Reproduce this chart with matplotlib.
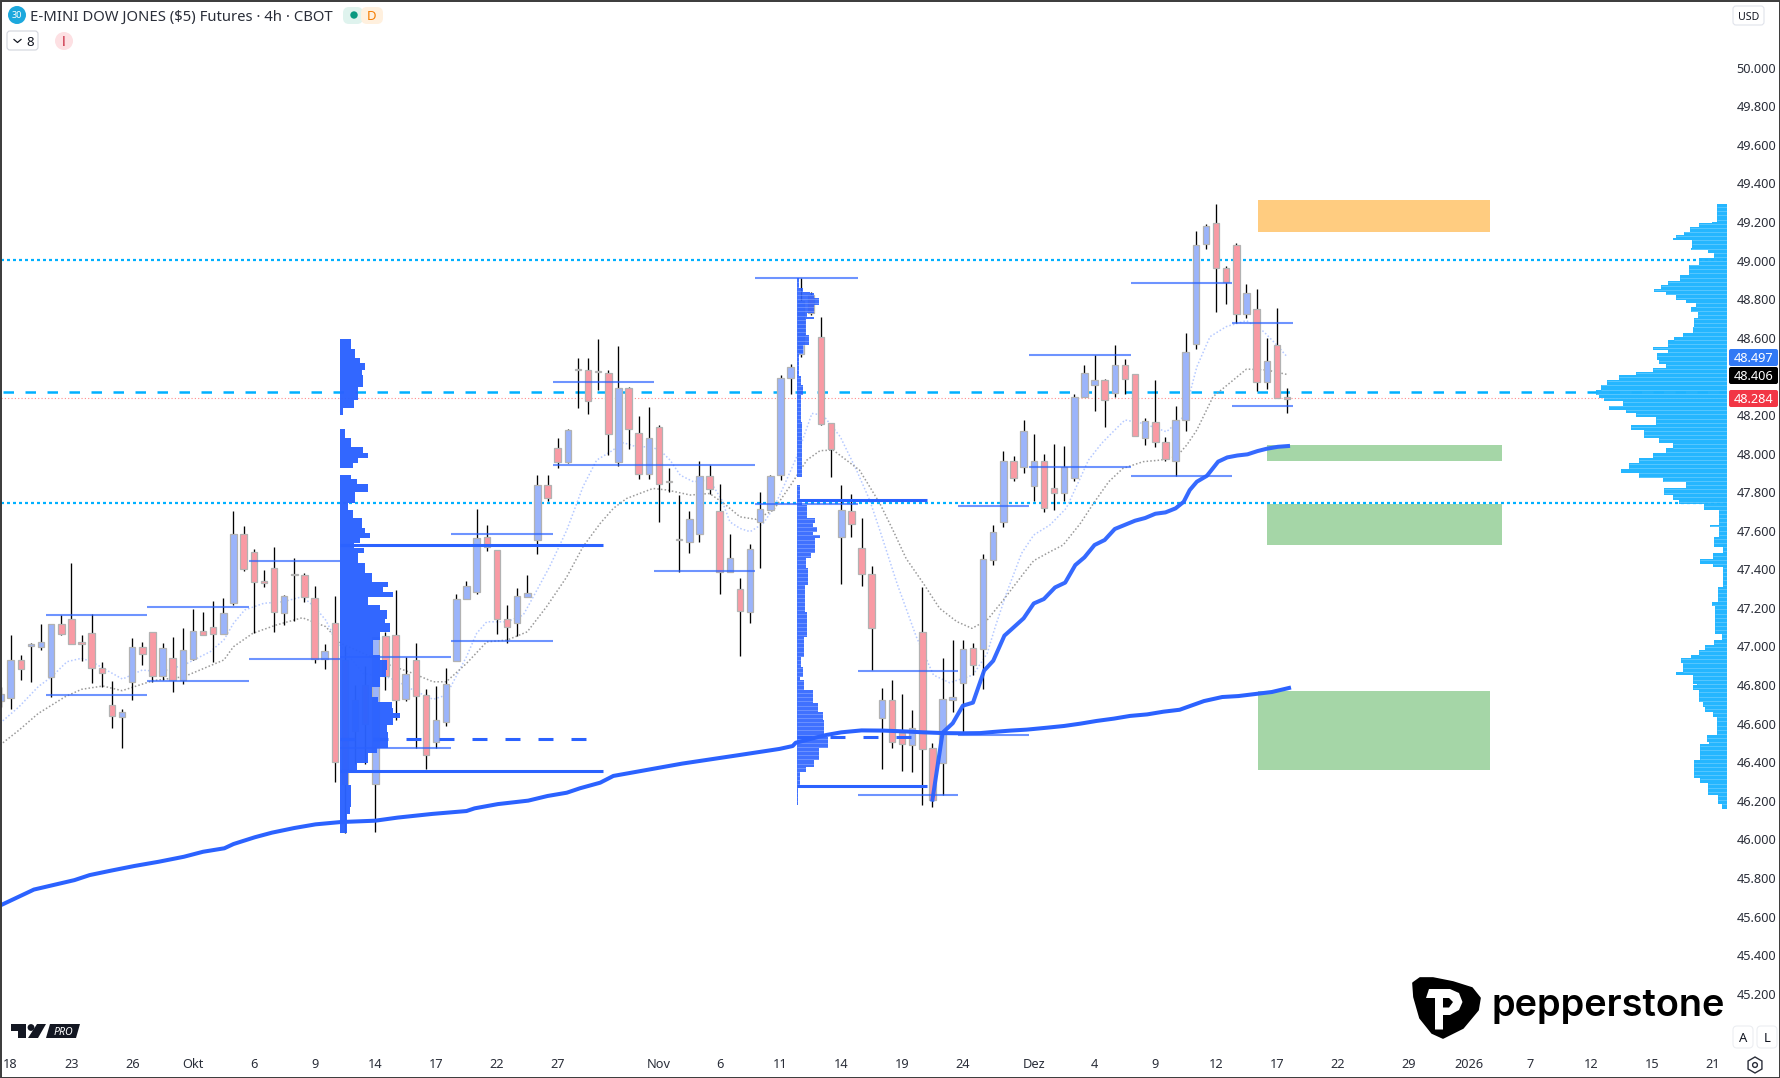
import numpy as np
from matplotlib import pyplot as plt
from matplotlib.patches import Polygon, Circle, FancyBboxPatch, Rectangle, RegularPolygon
from matplotlib.transforms import Affine2D

W, H = 1781, 1078
PANE_W, PANE_H = 1727, 1052
BAR_PX = 10.13

plt.rcParams['font.family'] = ['Noto Sans', 'DejaVu Sans']

# candles, index = bar number
opens = [46719, 46731, 46928, 47004, 46999, 46844, 47115, 47141, 47016, 47068, 46887, 46695, 46636, 46818, 46996, 47073,
         46849, 46939, 46826, 46933, 47078, 47101, 47066, 47227, 47581, 47488, 47332, 47405, 47175, 47369, 47369, 47250,
         46933, 47120, 46929, 46560, 46800, 46287, 47054, 47062, 46729, 46928, 46746, 46506, 46610, 46926, 47244, 47284,
         47565, 47498, 47145, 47120, 47258, 47551, 47835, 48027, 47958, 48431, 48431, 48421, 48415, 47954, 48338, 48104,
         47895, 48136, 47852, 47550, 47543, 47584, 47882, 47702, 47384, 47296, 47180, 47647, 47710, 47887, 48390, 48516,
         48822, 48602, 48156, 47570, 47700, 47513, 47374, 46631, 46721, 46550, 46491, 47073, 46472, 46398, 46724, 46812,
         46990, 46989, 47450, 47647, 47960, 47928, 47833, 47960, 47820, 47797, 47871, 48291, 48357, 48379, 48312, 48457,
         48410, 48082, 48162, 48058, 47959, 48172, 48566, 49084, 49193, 48960, 49079, 48725, 48747, 48369, 48561, 48286]
highs = [46792, 47059, 46956, 47016, 47117, 47115, 47163, 47431, 47059, 47167, 46921, 46821, 46674, 47042, 47021, 47077,
         47016, 47047, 47094, 47193, 47179, 47236, 47251, 47702, 47625, 47504, 47396, 47516, 47267, 47457, 47379, 47313,
         47015, 47262, 47000, 46800, 46900, 47050, 47076, 47292, 46947, 47019, 46779, 46795, 46891, 47272, 47339, 47712,
         47629, 47500, 47215, 47303, 47370, 47888, 47888, 48080, 48125, 48495, 48495, 48594, 48433, 48557, 48343, 48194,
         48241, 48148, 47925, 47785, 47700, 47959, 47940, 47842, 47583, 47355, 47531, 47799, 47888, 48407, 48464, 48908,
         48835, 48706, 48160, 47837, 47790, 47664, 47417, 46783, 46825, 46752, 46669, 47310, 46498, 46940, 47034, 47034,
         47016, 47478, 47630, 48013, 47987, 48174, 48101, 47998, 48049, 48039, 48307, 48459, 48511, 48384, 48562, 48490,
         48412, 48182, 48381, 48086, 48246, 48623, 49153, 49190, 49293, 48972, 49090, 48879, 48853, 48597, 48754, 48338]
lows = [46688, 46678, 46826, 46818, 46982, 46740, 47059, 47015, 46926, 46812, 46792, 46579, 46475, 46723, 46904, 46818,
        46826, 46766, 46805, 46930, 47059, 46921, 47065, 47215, 47393, 47072, 47310, 47077, 47111, 47134, 47232, 46916,
        46883, 46299, 46031, 46390, 46390, 46039, 46774, 46618, 46719, 46472, 46363, 46472, 46589, 46926, 47244, 47272,
        47496, 47064, 47019, 47054, 47258, 47479, 47754, 47925, 47952, 48236, 48205, 48329, 47992, 47935, 48023, 47868,
        47868, 47645, 47800, 47388, 47486, 47543, 47790, 47272, 47384, 46951, 47123, 47407, 47707, 47862, 48308, 48500,
        48718, 48148, 47878, 47322, 47569, 47315, 46878, 46367, 46475, 46356, 46351, 46178, 46166, 46230, 46660, 46553,
        46852, 46780, 47422, 47621, 47858, 47901, 47754, 47699, 47707, 47754, 47859, 48291, 48220, 48137, 48295, 48308,
        48089, 48044, 48034, 47963, 47885, 48117, 48543, 49060, 48735, 48775, 48678, 48702, 48322, 48336, 48286, 48212]
closes = [46752, 46930, 46885, 47009, 47021, 47115, 47066, 47015, 47015, 46890, 46864, 46641, 46659, 46996, 46963, 46849,
          46990, 46826, 46980, 47078, 47061, 47066, 47172, 47581, 47400, 47332, 47330, 47180, 47260, 47369, 47258, 46933,
          46975, 46403, 46287, 46720, 46600, 47050, 46846, 46725, 46857, 46745, 46435, 46617, 46808, 47244, 47311, 47560,
          47514, 47145, 47102, 47260, 47275, 47835, 47771, 47958, 48120, 48433, 48274, 48423, 48103, 48338, 48129, 47895,
          48079, 47843, 47850, 47552, 47659, 47882, 47818, 47384, 47457, 47186, 47504, 47711, 47882, 48390, 48447, 48792,
          48727, 48155, 48025, 47705, 47633, 47377, 47098, 46721, 46507, 46496, 46576, 46470, 46206, 46726, 46736, 46985,
          46906, 47452, 47592, 47960, 47875, 48117, 47960, 47716, 47797, 47930, 48291, 48416, 48379, 48276, 48457, 48388,
          48089, 48167, 48058, 47973, 48172, 48524, 49079, 49178, 48963, 48887, 48725, 48830, 48369, 48478, 48288, 48284]

# moving averages (dotted)
fast_x = [-0.05, 1.84, 3.73, 5.05, 6.56, 8.0, 9.0, 10.15, 12.04, 14.0, 15.8, 18.1, 20.7, 22.05, 23.0, 24.1, 26, 27.9, 29.8,
          31.0, 32.1, 33.1, 35.8, 38.1, 39.1, 40.75, 42.7, 44.0, 44.7, 46, 47, 48, 50, 51.6, 52.6, 54.2, 55.9, 57.5, 58.85,
          60.2, 61.5, 62.8, 64.1, 65.1, 66.1, 67.1, 68.4, 70.0, 71.2, 72, 73, 74, 75.3, 76.3, 77.3, 78.6, 80.1, 81.2, 82.9,
          84.5, 85.8, 86.8, 88.5, 90.4, 92.1, 93.7, 96, 97.4, 98.2, 99.3, 100.8, 102, 103.6, 105.2, 106.2, 107.4, 108.7, 110,
          111, 112.8, 115.1, 116.8, 118.1, 119.4, 121, 123, 124.7, 126, 127]
fast_y = [46602, 46688, 46792, 46843, 46921, 46939, 46921, 46887, 46831, 46878, 46869, 46904, 46973, 47034, 47120, 47189,
          47224, 47232, 47258, 47206, 47137, 47034, 46860, 46843, 46822, 46774, 46726, 46748, 46817, 46947, 47068, 47128,
          47128, 47163, 47258, 47413, 47603, 47828, 47966, 48009, 48056, 48035, 48035, 48018, 47966, 47888, 47854, 47863,
          47759, 47646, 47612, 47595, 47638, 47716, 47828, 47983, 48208, 48199, 48087, 47914, 47759, 47603, 47327, 47051,
          46852, 46812, 46852, 46964, 47102, 47275, 47483, 47578, 47630, 47716, 47828, 47966, 48053, 48122, 48174, 48156,
          48113, 48191, 48450, 48606, 48658, 48689, 48632, 48562, 48502]
slow_x = [-0.05, 1.84, 3.73, 6.4, 8, 10.1, 12, 15.06, 18.1, 22.05, 23, 24.9, 27.2, 29.8, 32.1, 33.6, 38.4, 40.75, 42.7, 44,
          46, 48, 50, 52, 53.9, 55.9, 57.5, 59.2, 60.5, 61.8, 64.4, 65.8, 68.1, 70, 71.4, 73, 74.6, 76.3, 77.9, 79.6, 80.9,
          82.2, 84.8, 86.8, 88.1, 89.4, 91.1, 92.7, 94.4, 95.9, 97.4, 99, 101, 102, 103.6, 104.9, 106.6, 107.9, 109.4, 110.8,
          112.8, 114.5, 116.1, 117.1, 118.1, 119.7, 121.7, 123, 125, 127]
slow_y = [46489, 46567, 46653, 46740, 46778, 46795, 46771, 46823, 46843, 46930, 46999, 47068, 47111, 47149, 47103, 47016,
          46904, 46860, 46817, 46817, 46912, 47024, 47033, 47076, 47206, 47361, 47517, 47638, 47716, 47767, 47819, 47811,
          47785, 47793, 47742, 47672, 47659, 47707, 47828, 47966, 48015, 48018, 47914, 47742, 47603, 47456, 47327, 47198,
          47129, 47094, 47137, 47241, 47379, 47445, 47491, 47526, 47638, 47742, 47854, 47923, 47958, 47966, 47984, 48044,
          48122, 48295, 48381, 48438, 48433, 48410]

# thick lines
vwap_low_x = [-0.05, 3.3, 7.3, 8.8, 10.9, 13.2, 15.6, 18.1, 20, 22.1, 23, 25.1, 26.8, 29, 31.1, 33.6, 37, 39.2, 42.6, 46, 46.8,
              49.1, 52.1, 54, 55.9, 57.2, 59.2, 60.5, 67.3, 72.9, 76.9, 78.2, 78.5, 80.2, 81.5, 83, 85, 87.1, 89.1, 91.1, 93.1,
              95, 96.7, 98, 99.7, 101.3, 103.3, 105, 106.6, 108.2, 109.9, 111.5, 113.2, 114.8, 116.4, 118.8, 120.6, 122.2,
              125.5, 127.2]
vwap_low_y = [45657, 45740, 45789, 45815, 45838, 45862, 45884, 45910, 45936, 45954, 45976, 46011, 46035, 46059, 46078, 46090,
              46097, 46113, 46132, 46147, 46161, 46183, 46201, 46225, 46242, 46265, 46294, 46329, 46393, 46437, 46469, 46484,
              46501, 46524, 46541, 46555, 46565, 46564, 46560, 46555, 46551, 46550, 46551, 46557, 46564, 46569, 46579, 46588,
              46600, 46614, 46626, 46640, 46648, 46662, 46672, 46717, 46738, 46743, 46764, 46785]
vwap_up_x = [92, 93, 94, 95, 96, 97.1, 98, 99.1, 99.8, 101, 102, 103, 104.1, 105.1, 106.1, 107, 108, 109, 110, 112, 113, 114,
             115, 116, 116.8, 117.4, 118.1, 119.1, 120.2, 121.1, 122.1, 123.1, 124.1, 125, 126.1, 127.1]
vwap_up_y = [46206, 46553, 46602, 46693, 46709, 46875, 46926, 47056, 47089, 47146, 47223, 47246, 47306, 47331, 47422, 47462,
             47526, 47552, 47609, 47652, 47666, 47688, 47695, 47716, 47750, 47811, 47854, 47885, 47958, 47980, 47990, 47996,
             48013, 48025, 48035, 48039]

# thin range lines
range_start = [4.5, 4.5, 14.5, 14.5, 24.5, 24.5, 33.5, 33.5, 44.5, 44.5, 54.5, 54.5, 64.5, 74.5, 74.5, 84.6, 84.6,
               94.5, 94.5, 101.5, 101.5, 111.6, 111.6, 121.6, 121.6]
range_end = [14.5, 14.5, 24.5, 24.5, 33.5, 33.5, 44.5, 44.5, 54.5, 54.5, 64.5, 74.5, 74.5, 84.6, 84.6, 94.5, 94.5,
             101.5, 101.5, 111.6, 111.6, 121.6, 121.6, 127.6, 127.6]
range_price = [47163, 46748, 47205, 46821, 47445, 46935, 46945, 46475, 47583, 47028, 48372, 47940, 47389, 48910, 47736,
               46875, 46230, 47729, 46541, 48512, 47932, 48886, 47885, 48678, 48248]

# profile levels
poc_start = [33.5, 33.5, 78.6, 78.6]
poc_end = [59.5, 59.5, 91.5, 91.5]
poc_price = [47524, 46357, 47757, 46275]
poc_dash_start = [33.5, 78.6]
poc_dash_end = [58, 90.2]
poc_dash_price = [46523, 46529]

# volume profile 1 (row top price, width in px, 0 = gap)
vp1_price = [48594, 48571, 48542, 48493, 48467, 48433, 48407, 48346, 48277, 48234, 48201, 48125, 48079, 48032, 48001, 47975,
             47949, 47923, 47888, 47866, 47842, 47802, 47745, 47707, 47664, 47612, 47586, 47560, 47534, 47508, 47482, 47431,
             47379, 47336, 47310, 47284, 47258, 47215, 47189, 47145, 47120, 47076, 47033, 46990, 46955, 46929, 46878, 46843,
             46791, 46739, 46713, 46679, 46656, 46627, 46592, 46558, 46523, 46518, 46472, 46446, 46394, 46342, 46281, 46169,
             46134, 46065, 46031]
vp1_width = [11, 11, 15, 20, 25, 22, 23, 18, 14, 3, 0, 5, 11, 23, 28, 18, 13, 0, 11, 17, 28, 15, 8, 13, 22, 25, 30, 20, 14,
             24, 18, 25, 32, 48, 43, 53, 28, 40, 47, 45, 50, 40, 33, 33, 40, 47, 46, 40, 32, 38, 52, 53, 60, 53, 47, 48, 63,
             48, 37, 28, 17, 8, 11, 10, 7, 7]
# volume profile 2
vp2_price = [48908, 48856, 48835, 48830, 48804, 48770, 48727, 48706, 48695, 48614, 48562, 48516, 48402, 48355, 48303, 48165,
             47880, 47837, 47759, 47733, 47664, 47638, 47621, 47595, 47577, 47560, 47483, 47457, 47405, 47319, 47180, 47051,
             46947, 46895, 46844, 46826, 46774, 46705, 46662, 46619, 46533, 46472, 46412, 46377, 46351, 46265, 46178]
vp2_width = [2.5, 6, 13, 17, 22, 17, 10, 17, 9, 12, 6, 2, 4, 6, 4.5, 5, 0, 3.5, 5, 10, 18, 16, 20, 16, 23, 18, 14, 9, 11,
             8, 10, 7, 4, 6, 3, 7, 16, 21, 26, 27, 31, 22, 17, 9, 3, 1.5]
# visible range profile on the right
vp3_price = [49292, 49202, 49193, 49176, 49150, 49133, 49119, 49107, 49064, 49055, 49038, 49012, 48977, 48925, 48896, 48873,
             48853, 48839, 48822, 48796, 48779, 48761, 48735, 48701, 48658, 48623, 48606, 48588, 48554, 48537, 48519, 48485,
             48464, 48442, 48424, 48407, 48381, 48355, 48329, 48303, 48286, 48274, 48246, 48225, 48208, 48191, 48148, 48122,
             48079, 48053, 48027, 48001, 47978, 47949, 47918, 47897, 47871, 47850, 47823, 47785, 47759, 47738, 47707, 47629,
             47617, 47569, 47517, 47482, 47456, 47430, 47413, 47309, 47232, 47209, 47067, 47033, 47007, 46981, 46955, 46938,
             46912, 46869, 46851, 46808, 46800, 46774, 46713, 46687, 46661, 46635, 46540, 46506, 46494, 46411, 46316, 46290,
             46229, 46186, 46160]
vp3_width = [10, 15, 28, 37, 43, 51, 54, 35, 36, 19, 13, 28, 38, 47, 59, 66, 73, 61, 51, 41, 31, 36, 29, 33, 34, 44, 53, 59,
             74, 59, 70, 68, 61, 74, 91, 108, 120, 126, 131, 128, 123, 104, 118, 101, 91, 71, 96, 83, 68, 54, 61, 74, 88, 98,
             106, 88, 64, 41, 63, 54, 48, 23, 8, 17, 8, 13, 4, 14, 27, 14, 4, 9, 15, 12, 5, 13, 22, 28, 36, 46, 44, 51, 34,
             30, 34, 28, 24, 22, 14, 10, 20, 18, 27, 33, 27, 19, 9, 5]

# zones
zone_start = [124.1, 125, 125, 124.1]
zone_end = [147, 148.2, 148.2, 147]
zone_top = [49314, 48044, 47741, 46770]
zone_bottom = [49150, 47962, 47526, 46360]
zone_color = ["#ffcc80", "#a5d6a7", "#a5d6a7", "#a5d6a7"]

# 48.400 sits under the last price tags in the reference
y_ticks = [v for v in range(45200, 50001, 200) if v != 48400]
y_labels = ["{:.3f}".format(v / 1000) for v in y_ticks]
x_ticks = [1, 7, 13, 19, 25, 31, 37, 43, 49, 55, 65, 71, 77, 83, 89, 95, 102, 108, 114, 120, 126, 132, 139, 145, 151, 157, 163, 169]
x_labels = ["18", "23", "26", "Okt", "6", "9", "14", "17", "22", "27", "Nov", "6", "11", "14", "19", "24", "Dez", "4", "9", "12",
            "17", "22", "29", "2026", "7", "12", "15", "21"]

BLUE = "#2b62ff"
CYAN = "#00b0ff"

fig = plt.figure(figsize=(W / 100, H / 100), dpi=100, facecolor="white")
ax = fig.add_axes([0, 1 - PANE_H / H, PANE_W / W, PANE_H / H])
x_right = (PANE_W - 0.5) / BAR_PX
ax.set_xlim(-0.05, x_right)
ax.set_ylim(44898, 50351)
for s in ax.spines.values():
    s.set_visible(False)

ax.yaxis.tick_right()
ax.set_yticks(y_ticks)
ax.set_yticklabels(y_labels, fontsize=9.2, color="#2a2e39", va="center_baseline")
ax.set_xticks(x_ticks)
ax.set_xticklabels(x_labels, fontsize=9.2, color="#2a2e39")
ax.tick_params(length=0, axis="y", pad=7)
ax.tick_params(length=0, axis="x", pad=4.5)

# zones
for i in range(len(zone_start)):
    ax.fill_between([zone_start[i], zone_end[i]], zone_bottom[i], zone_top[i], color=zone_color[i], lw=0, zorder=1)

# horizontal levels
ax.plot([0, 171], [49005, 49005], color=CYAN, lw=1.6, ls=(0, (1.35, 1.35)), zorder=2)
ax.plot([0, 171], [47745, 47745], color=CYAN, lw=1.6, ls=(0, (1.35, 1.35)), zorder=2)
ax.plot([0, 171], [48286, 48286], color="#ff8a8a", lw=0.8, ls=(0, (1, 2)), zorder=2)
ax.plot([0.2, 171], [48320, 48320], color=CYAN, lw=1.8, ls=(0, (4.2, 4.6)), zorder=2.5)

ax.plot(fast_x, fast_y, color="#b5c9ff", lw=1.1, ls=(0, (1, 1.4)), zorder=2.6)
ax.plot(slow_x, slow_y, color="#9a9a9a", lw=1.1, ls=(0, (1, 1.4)), zorder=2.6)

# candles
idx = np.arange(len(opens))
o = np.array(opens)
c = np.array(closes)
ax.vlines(idx, lows, highs, color="black", lw=0.95, zorder=3)
colors = ["#9bb4fb" if c[i] >= o[i] else "#f99aa4" for i in idx]
ax.bar(idx, np.maximum(np.abs(c - o), 8), bottom=np.minimum(o, c), width=0.64, color=colors, edgecolor="#b2b2b2", lw=0.9, zorder=3.2)


def draw_profile(prices, widths, left=None, right=None, alpha=0.97, color=BLUE, z=5, stripes=False):
    prices = np.array(prices, dtype=float)
    w = np.array(widths, dtype=float) / BAR_PX
    h = prices[:-1] - prices[1:]
    x0 = left if left is not None else right - w
    ax.barh(prices[1:], w, height=h, left=x0, align="edge", color=color, alpha=alpha, lw=0, zorder=z)
    if stripes:
        # pale gaps between the rows, only as wide as the profile at that price
        grid = np.arange(prices[-1], prices[0], 21.5)
        row = np.clip(np.searchsorted(-prices, -grid) - 1, 0, len(w) - 1)
        x_a = left if left is not None else right - w[row]
        x_b = left + w[row] if left is not None else right
        ax.hlines(grid, x_a, x_b, color="white", lw=0.5, alpha=0.32, zorder=z + 0.1)


draw_profile(vp1_price, vp1_width, left=33.5)
draw_profile(vp2_price, vp2_width, left=78.6, alpha=0.9, stripes=True)
draw_profile(vp3_price, vp3_width, right=x_right, color="#1eb4ff", z=2.8, stripes=True)

# thin range lines
ax.hlines(range_price, range_start, range_end, color="#2962ff", alpha=0.68, lw=1.5, zorder=4)

# profile lines
ax.hlines(poc_price, poc_start, poc_end, color=BLUE, lw=2.2, zorder=5)
for i in range(len(poc_dash_price)):
    ax.plot([poc_dash_start[i], poc_dash_end[i]], [poc_dash_price[i]] * 2, color=BLUE, lw=2.2, ls=(0, (4.9, 5.9)), zorder=5)

# vwap style lines
ax.plot(vwap_low_x, vwap_low_y, color=BLUE, lw=2.9, zorder=6, solid_joinstyle="round")
ax.plot(vwap_up_x, vwap_up_y, color=BLUE, lw=2.9, alpha=0.95, zorder=6, solid_joinstyle="round")

# everything below is chrome placed in screen pixels
px = Affine2D().scale(1 / W, -1 / H).translate(0, 1) + fig.transFigure


def box(x, y, w, h, fc, ec="none", lw=0, r=3):
    fig.add_artist(FancyBboxPatch((x, y), w, h, boxstyle="round,pad=0,rounding_size=%g" % r, fc=fc, ec=ec, lw=lw, transform=px, zorder=20))


def label(x, y, s, size=9.2, color="#2a2e39", ha="left", **kw):
    fig.text(x / W, 1 - y / H, s, fontsize=size, color=color, ha=ha, va="center_baseline", zorder=21, **kw)


# last price labels
box(1729, 349, 49, 17, "#3179f5", r=2)
box(1729, 367, 49, 17, "#000000", r=2)
box(1729, 390, 49, 17, "#f23645", r=2)
label(1753.5, 357.5, "48.497", color="white", ha="center")
label(1753.5, 375.5, "48.406", color="white", ha="center")
label(1753.5, 398.5, "48.284", color="white", ha="center")

# header
fig.add_artist(Circle((17, 15), 9, fc="#1ca8dd", ec="none", transform=px, zorder=20))
label(17, 15, "30", size=6.5, color="white", ha="center", fontweight="bold")
label(30, 15, "E-MINI DOW JONES ($5) Futures · 4h · CBOT", size=10.7, color="#2a2e39")
box(343, 7, 20, 17, "#dff3ee", r=6)
box(361, 7, 22, 17, "#fff0de", r=6)
fig.add_artist(Circle((354, 15), 3.7, fc="#089981", ec="none", transform=px, zorder=21))
label(372, 15, "D", size=9.5, color="#f57c00", ha="center", fontweight="bold")
box(7, 31, 31, 19, "white", ec="#d1d4dc", lw=0.8, r=3)
fig.add_artist(plt.Line2D([14, 17.5, 21], [39.5, 42.5, 39.5], color="#131722", lw=0.9, transform=px, zorder=22))
label(30.5, 41, "8", size=9.6, color="#131722", ha="center")
fig.add_artist(Circle((64, 41), 9, fc="#fde0e3", ec="none", transform=px, zorder=20))
label(64, 41, "!", size=10.5, color="#c9283e", ha="center", fontweight="bold")

# USD / A / L buttons
box(1733, 6, 31, 19, "white", ec="#e0e3eb", lw=0.8, r=3)
label(1748.5, 15.5, "USD", size=7.6, ha="center", color="#131722")
box(1733, 1026, 20, 22, "white", ec="#eceef2", lw=0.8, r=4)
box(1757, 1026, 20, 22, "white", ec="#eceef2", lw=0.8, r=4)
label(1743, 1037, "A", size=9.4, ha="center", color="#131722")
label(1767, 1037, "L", size=9.4, ha="center", color="#131722")
fig.add_artist(RegularPolygon((1755, 1065), 6, radius=8, fc="white", ec="#2a2e39", lw=1, transform=px, zorder=20))
fig.add_artist(Circle((1755, 1065), 2.4, fc="white", ec="#2a2e39", lw=1, transform=px, zorder=21))

# TV logo
fig.add_artist(Polygon([(11, 1024), (26, 1024), (26, 1038), (18, 1038), (18, 1031), (11, 1031)], closed=True, fc="#131722", ec="none", transform=px, zorder=20))
fig.add_artist(Circle((31, 1027.5), 3.4, fc="#131722", ec="none", transform=px, zorder=20))
fig.add_artist(Polygon([(37, 1024), (46, 1024), (38, 1038), (28, 1038)], closed=True, fc="#131722", ec="none", transform=px, zorder=20))
fig.add_artist(Polygon([(50, 1024), (80, 1024), (76, 1038), (46, 1038)], closed=True, fc="#131722", ec="none", transform=px, zorder=20))
label(63, 1031, "PRO", size=7.6, color="white", ha="center", fontweight="bold", fontstyle="italic")

# pepperstone logo
shield = [(1413, 983), (1420, 978), (1433, 978), (1453, 982), (1472, 988), (1480, 998), (1478, 1010), (1463, 1028),
          (1443, 1038), (1432, 1033), (1420, 1018), (1414, 997)]
fig.add_artist(Polygon(shield, closed=True, fc="black", ec="black", lw=1.2, joinstyle="round", transform=px, zorder=20))
letter = [(1429, 989), (1450, 989), (1459, 993), (1462.5, 1002), (1459, 1010), (1450, 1015), (1443, 1015), (1443, 1029.5),
          (1435, 1029.5), (1435, 998), (1426, 998)]
fig.add_artist(Polygon(letter, closed=True, fc="white", ec="none", transform=px, zorder=21))
counter = [(1443, 998), (1449, 998), (1453, 1002), (1449, 1007.5), (1443, 1007.5)]
fig.add_artist(Polygon(counter, closed=True, fc="black", ec="none", transform=px, zorder=22))
fig.text(1492 / W, 1 - 1016 / H, "pepperstone", fontsize=27.3, family="Inter", fontweight="semibold", color="black", va="baseline", zorder=21)

# window frame
fig.add_artist(Rectangle((0.5, 0.5), W - 1, H - 1, fc="none", ec="#3a3a3a", lw=1.4, transform=px, zorder=30))

plt.savefig("out.png", dpi=100)
